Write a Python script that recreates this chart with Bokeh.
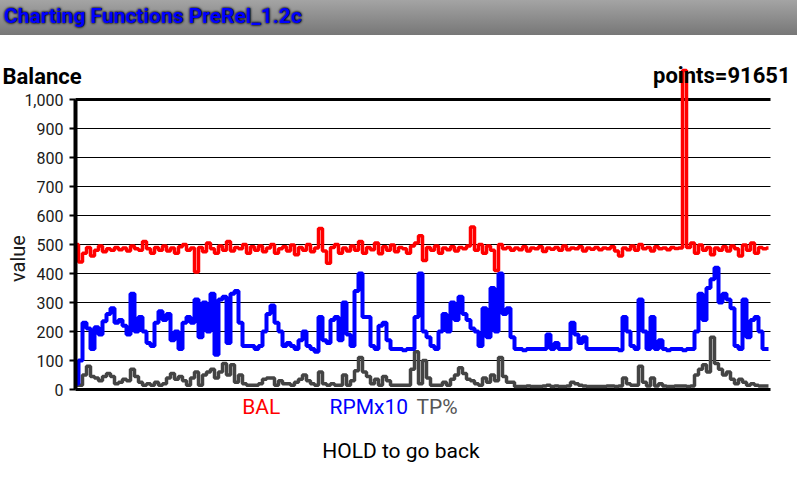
import numpy as np
from math import pi
from bokeh.plotting import figure
from bokeh.models import Range1d, FixedTicker, Label, Div, NumeralTickFormatter, LinearAxis
from bokeh.layouts import column
from bokeh.embed import file_html
from bokeh.resources import INLINE

# ---------------- data ----------------
TOTAL_POINTS = 91651
app_title = "Charting Functions PreRel_1.2c"
chart_title = "Balance"
y_label = "value"
footer = "HOLD to go back"
series_names = ["BAL", "RPMx10", "TP%"]
y_ticks = [0, 100, 200, 300, 400, 500, 600, 700, 800, 900, 1000]

bal = [500, 440, 470, 490, 460, 480, 495, 475, 485, 480, 490, 482, 488, 478, 495,
       485, 480, 510, 485, 470, 490, 480, 495, 478, 488, 470, 492, 500, 480, 488,
       405, 490, 475, 505, 485, 470, 495, 480, 510, 478, 490, 485, 500, 470, 492,
       480, 495, 475, 488, 500, 470, 485, 492, 478, 498, 465, 490, 480, 500, 475,
       488, 555, 478, 435, 490, 500, 470, 488, 478, 495, 480, 510, 470, 490, 482,
       505, 468, 492, 480, 498, 475, 490, 485, 470, 495, 505, 530, 445, 490,
       480, 495, 470, 488, 482, 492, 478, 490, 485, 495, 560, 480, 500, 470, 495,
       480, 410, 500, 485, 490, 480, 488, 482, 492, 478, 488, 485, 492, 476, 488,
       484, 490, 480, 495, 482, 488, 485, 492, 478, 488, 484, 490, 482, 488,
       485, 492, 478, 460, 488, 482, 495, 480, 500, 485, 490, 478, 492, 485, 488,
       482, 490, 486, 488, 1100, 490, 505, 470, 498, 480, 490, 465, 488, 480, 492,
       478, 495, 485, 460, 498, 480, 505, 470, 490, 485, 488]

rpm = [20, 100, 230, 210, 140, 215, 190, 235, 260, 280, 230, 240, 220, 190, 330,
       200, 250, 200, 160, 150, 230, 270, 240, 260, 170, 200, 140, 230, 250, 230,
       310, 180, 300, 200, 330, 120, 310, 320, 160, 330, 340, 230, 150, 150, 150,
       140, 150, 200, 260, 290, 230, 200, 150, 160, 150, 140, 170, 200, 150, 140,
       130, 250, 170, 160, 240, 250, 170, 300, 190, 150, 340, 400, 250, 250, 150,
       140, 220, 230, 170, 140, 140, 140, 135, 140, 140, 250, 400, 200, 180,
       150, 140, 200, 260, 200, 300, 240, 320, 260, 240, 210, 200, 150, 280, 180,
       350, 200, 400, 260, 280, 180, 140, 140, 135, 140, 140, 140, 140, 140, 190,
       140, 160, 140, 140, 140, 230, 190, 160, 180, 140, 140, 140, 140, 140,
       140, 140, 140, 135, 250, 200, 150, 140, 310, 200, 140, 250, 140, 170, 140,
       135, 140, 140, 140, 135, 140, 140, 200, 330, 240, 350, 380, 420, 300, 330,
       310, 280, 150, 140, 310, 180, 240, 250, 200, 140, 140]

tp = [15, 15, 50, 80, 45, 40, 30, 45, 55, 45, 20, 25, 35, 30, 70,
      45, 25, 15, 20, 15, 25, 15, 20, 40, 55, 35, 45, 30, 15, 40,
      60, 15, 50, 60, 70, 40, 60, 90, 50, 85, 25, 50, 20, 15, 15,
      15, 20, 35, 40, 40, 15, 30, 20, 20, 15, 25, 35, 50, 30, 20,
      15, 60, 20, 15, 20, 15, 15, 50, 15, 30, 65, 110, 60, 45, 20,
      35, 15, 45, 30, 15, 15, 15, 15, 15, 70, 130, 20, 100, 40,
      15, 15, 15, 25, 15, 35, 50, 75, 55, 35, 30, 20, 15, 40, 25,
      50, 30, 110, 45, 25, 25, 10, 10, 10, 12, 10, 10, 10, 12, 15,
      10, 12, 10, 10, 12, 25, 20, 15, 12, 10, 10, 10, 10, 10,
      12, 12, 10, 12, 40, 20, 15, 15, 80, 25, 12, 40, 12, 20, 12,
      10, 10, 12, 12, 12, 10, 12, 50, 70, 85, 60, 180, 90, 70, 50,
      60, 35, 20, 35, 25, 15, 20, 15, 12, 12, 12]

colors = ["#ff0000", "#0000ff", "#444444"]
legend_colors = ["#ff0000", "#0000ff", "#555555"]

# ---------------- layout helpers (reference page pixel -> data) ----------------
PAGE_W, PAGE_H, HEADER_H = 800, 480, 38
CANVAS_DX, CANVAS_DY = -8, 2  # where the plot canvas actually lands relative to the root
X0, X1 = 76.0, 768.0          # page x of first / last sample
YB, PXU = 389.0, 0.29         # page y of value 0, pixels per unit
PLOT_LEFT, PLOT_RIGHT = 75.0, 770.0
TXT = 7.0                     # baseline correction for text annotations


def sx(px):
    return (px - X0) * TOTAL_POINTS / (X1 - X0)


def sy(py):
    return (YB - py) / PXU


cl = CANVAS_DX
ct = HEADER_H + CANVAS_DY
p = figure(width=PAGE_W, height=PAGE_H - HEADER_H, output_backend="svg", toolbar_location=None,
           x_range=Range1d(sx(cl), sx(cl + PAGE_W)),
           y_range=Range1d(sy(ct + PAGE_H - HEADER_H), sy(ct)),
           x_axis_location=None, y_axis_location=None,
           min_border_left=0, min_border_right=0, min_border_top=0, min_border_bottom=0)
p.outline_line_color = None
p.background_fill_color = "white"
p.border_fill_color = "white"
p.xgrid.visible = False
p.ygrid.visible = False

# value axis drawn at the left edge of the plotting area
ax = LinearAxis(fixed_location=sx(PLOT_LEFT))
ax.ticker = FixedTicker(ticks=y_ticks)
ax.bounds = (y_ticks[0], y_ticks[-1])
ax.formatter = NumeralTickFormatter(format="0,0")
ax.axis_line_width = 4
ax.axis_line_color = "black"
ax.major_tick_out = 6
ax.major_tick_in = 0
ax.major_tick_line_width = 2
ax.major_tick_line_color = "black"
ax.minor_tick_line_color = None
ax.major_label_text_font = "Roboto"
ax.major_label_text_font_size = "16px"
ax.major_label_text_color = "#1a1a1a"
ax.major_label_standoff = 6
p.add_layout(ax, "left")

# horizontal grid lines at the tick values
grid_w = [3 if t in (y_ticks[0], y_ticks[-1]) else 1 for t in y_ticks]
p.segment(x0=[sx(PLOT_LEFT)] * len(y_ticks), x1=[sx(PLOT_RIGHT)] * len(y_ticks),
          y0=y_ticks, y1=y_ticks, line_color="black", line_width=grid_w)

for s, c, w in zip([tp, rpm, bal], [colors[2], colors[1], colors[0]], [3.5, 4, 3.5]):
    xs = np.linspace(0, TOTAL_POINTS, len(s))
    p.step(xs, s, mode="center", line_color=c, line_width=w)

p.add_layout(Label(x=sx(2), y=sy(82.7 - TXT), text=chart_title, text_font="Roboto",
                   text_font_style="bold", text_font_size="22px", text_color="black",
                   text_align="left", text_baseline="alphabetic"))
p.add_layout(Label(x=sx(790), y=sy(81.7 - TXT), text=f"points={TOTAL_POINTS}", text_font="Roboto",
                   text_font_style="bold", text_font_size="22px", text_color="black",
                   text_align="right", text_baseline="alphabetic"))
p.add_layout(Label(x=sx(17), y=sy(258), text=y_label, angle=pi / 2, text_font="Roboto",
                   text_font_size="20px", text_color="#1a1a1a",
                   text_align="center", text_baseline="middle"))

legend_x = [241.7, 329.0, 416.0]
for name, c, lx in zip(series_names, legend_colors, legend_x):
    p.add_layout(Label(x=sx(lx), y=sy(413.7 - TXT), text=name, text_font="Roboto",
                       text_font_size="21px", text_color=c,
                       text_align="left", text_baseline="alphabetic"))
p.add_layout(Label(x=sx(321.7), y=sy(457 - TXT), text=footer, text_font="Roboto",
                   text_font_size="21px", text_color="black",
                   text_align="left", text_baseline="alphabetic"))

title_html = (
    f'<div style="box-sizing:border-box;width:{PAGE_W}px;height:{HEADER_H}px;margin:0;'
    'padding:7px 0 0 7px;background:linear-gradient(#a8a8a8,#777777);font-family:Roboto;'
    'font-weight:bold;font-size:21px;line-height:24px;color:#0000ff;'
    'text-shadow:0 0 3px #000,0 0 2px #000;white-space:nowrap;">'
    + app_title + '</div>'
)
header = Div(text=title_html, width=PAGE_W, height=HEADER_H,
             styles={"background": "linear-gradient(#a8a8a8,#777777)"})

layout = column(header, p, spacing=0,
                styles={"margin-left": "-8px", "margin-top": "-8px"})
open("out.html", "w").write(file_html(layout, INLINE))
